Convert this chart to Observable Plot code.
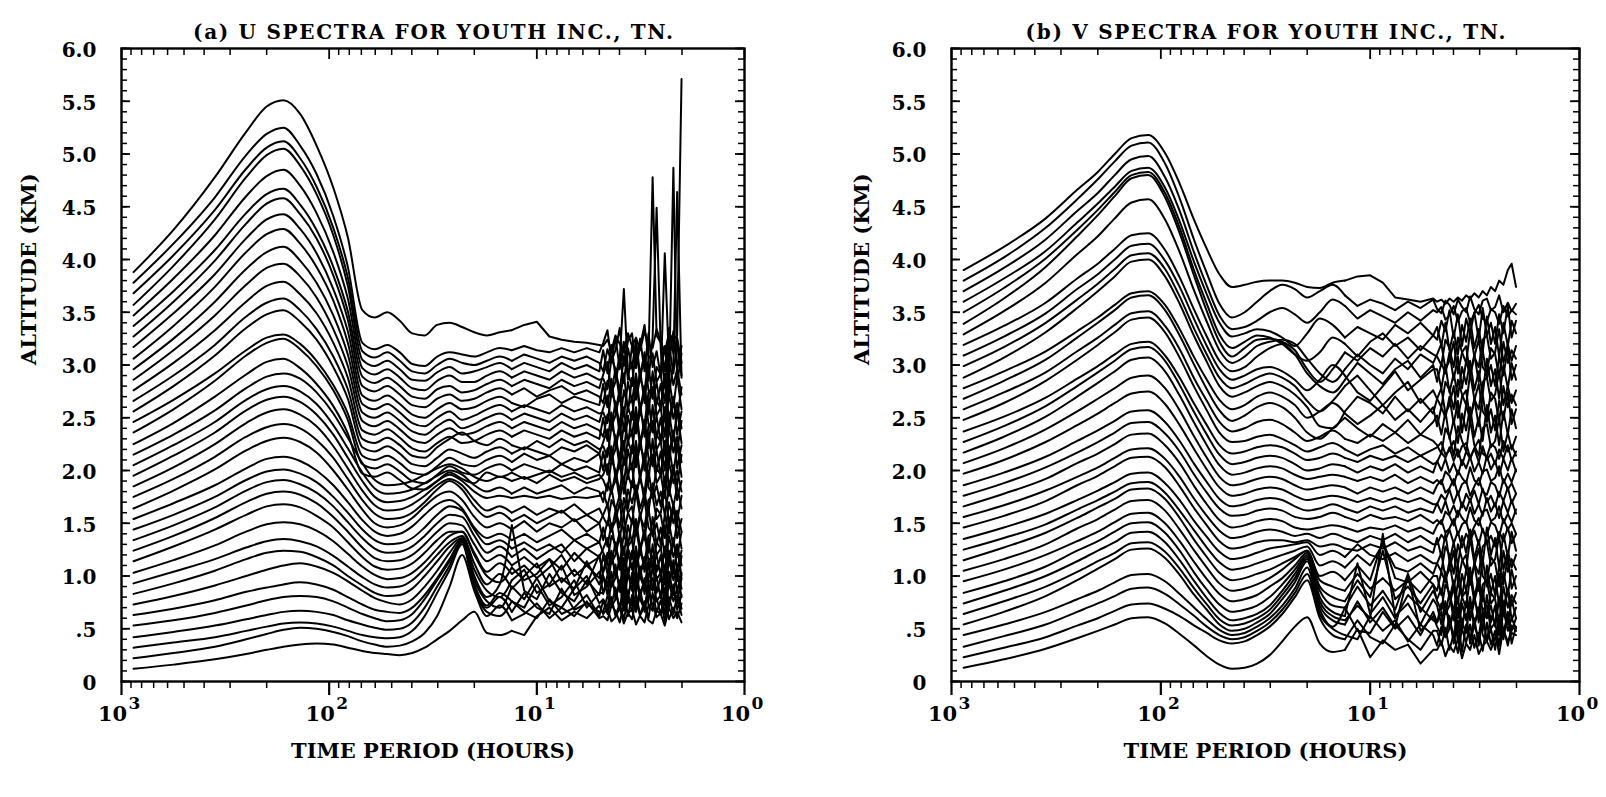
<!DOCTYPE html>
<html><head><meta charset="utf-8">
<script src="https://cdn.jsdelivr.net/npm/d3@7"></script>
<script src="https://cdn.jsdelivr.net/npm/@observablehq/plot@0.6"></script>
<style>
html,body{margin:0;padding:0;background:#fff;overflow:hidden;}
#wrap{display:flex;width:1606px;height:797px;}
#wrap svg{display:block;flex:none;}
</style></head><body><div id="wrap"></div>
<script>
// time periods (hours) at which each spectrum curve is sampled (denser at the short-period end)
const periods = [875, 562, 355, 251, 200, 166, 138, 115, 95.5, 81.3, 69.2, 60.3, 52.5, 45.7, 39.8, 34.7, 30.2, 26.3, 22.9, 20.0, 17.4, 15.1, 13.2, 11.5, 10.0, 8.7, 7.6, 6.6, 5.75, 5.0,
  4.79, 4.57, 4.37, 4.18, 3.99, 3.81, 3.64, 3.48, 3.33, 3.18, 3.03, 2.90, 2.77, 2.65, 2.53, 2.42, 2.31, 2.20, 2.11, 2.01];

const yTickValues = [0, 0.5, 1, 1.5, 2, 2.5, 3, 3.5, 4, 4.5, 5, 5.5, 6];
const yTickLabels = ["0", ".5", "1.0", "1.5", "2.0", "2.5", "3.0", "3.5", "4.0", "4.5", "5.0", "5.5", "6.0"];
const xTickValues = [1000, 100, 10, 1];
const xTickExponents = ["3", "2", "1", "0"];
const titles = ["(a) U SPECTRA FOR YOUTH INC., TN.", "(b) V SPECTRA FOR YOUTH INC., TN."];
const xTitle = "TIME PERIOD (HOURS)";
const yTitle = "ALTITUDE (KM)";

// (a) U spectra, one row per altitude level (bottom to top), altitude-offset values in km
const uCurves = [
[0.12,0.16,0.21,0.26,0.30,0.33,0.35,0.36,0.35,0.32,0.29,0.27,0.26,0.25,0.27,0.32,0.40,0.48,0.58,0.66,0.46,0.44,0.48,0.44,0.62,0.70,0.58,0.66,0.60,0.72, 0.64,0.69,0.57,0.61,0.70,0.55,0.65,0.68,0.54,0.63,0.71,0.58,0.55,0.67,0.64,0.53,0.70,0.60,0.66,0.56],
[0.22,0.27,0.33,0.40,0.45,0.49,0.51,0.50,0.47,0.43,0.38,0.35,0.33,0.34,0.38,0.46,0.62,0.90,1.20,0.86,0.62,0.72,0.58,0.64,0.74,0.60,0.70,0.62,0.76,0.60, 0.62,0.58,0.72,0.67,0.56,0.73,0.65,0.59,0.77,0.62,0.56,0.72,0.74,0.61,0.65,0.78,0.59,0.70,0.60,0.74],
[0.32,0.37,0.42,0.48,0.52,0.55,0.56,0.55,0.52,0.48,0.44,0.42,0.41,0.42,0.48,0.62,0.84,1.06,1.30,0.88,0.66,0.62,0.76,0.66,0.60,0.78,0.64,0.70,0.82,0.62, 0.77,0.64,0.80,0.62,0.74,0.59,0.78,0.67,0.83,0.63,0.76,0.60,0.84,0.66,0.77,0.57,0.80,0.64,0.81,0.63],
[0.42,0.47,0.53,0.59,0.63,0.66,0.67,0.66,0.63,0.58,0.54,0.51,0.49,0.50,0.56,0.70,0.90,1.10,1.32,0.90,0.70,0.80,0.66,0.84,0.70,0.64,0.88,0.68,0.74,0.66, 0.66,0.81,0.73,0.89,0.68,0.86,0.62,0.82,0.71,0.87,0.66,0.90,0.70,0.79,0.63,0.86,0.71,0.92,0.68,0.82],
[0.53,0.58,0.65,0.72,0.77,0.80,0.81,0.80,0.76,0.70,0.64,0.60,0.57,0.58,0.64,0.78,0.96,1.14,1.33,0.92,0.72,0.84,0.76,0.70,0.92,0.72,0.80,0.96,0.70,0.84, 0.84,0.93,0.71,0.78,0.94,0.67,0.85,0.91,0.66,0.82,0.96,0.73,0.67,0.89,0.84,0.64,0.94,0.76,0.87,0.69],
[0.63,0.69,0.77,0.85,0.89,0.92,0.94,0.92,0.87,0.80,0.73,0.68,0.66,0.65,0.70,0.82,0.98,1.16,1.34,0.96,0.76,0.70,0.90,0.78,0.98,0.76,0.70,0.88,1.00,0.74, 0.78,0.70,0.94,0.86,0.68,0.96,0.82,0.72,1.02,0.78,0.68,0.94,0.98,0.76,0.82,1.04,0.72,0.90,0.74,0.98],
[0.73,0.81,0.91,1.00,1.06,1.10,1.12,1.09,1.03,0.95,0.86,0.79,0.75,0.73,0.78,0.90,1.05,1.22,1.35,1.00,0.80,0.92,1.48,0.86,0.78,1.02,0.84,0.76,0.96,0.82, 1.00,0.82,1.04,0.78,0.96,0.74,1.02,0.86,1.08,0.80,0.98,0.76,1.10,0.84,1.00,0.72,1.04,0.82,1.06,0.80],
[0.83,0.93,1.05,1.16,1.22,1.24,1.23,1.18,1.10,1.00,0.91,0.84,0.81,0.82,0.88,1.00,1.14,1.28,1.36,1.06,0.86,0.80,0.96,1.06,0.84,0.92,1.10,0.82,0.90,1.04, 0.83,1.01,0.91,1.11,0.85,1.07,0.77,1.03,0.89,1.09,0.83,1.13,0.87,0.99,0.79,1.07,0.89,1.15,0.85,1.03],
[0.93,1.04,1.16,1.27,1.33,1.35,1.33,1.28,1.19,1.09,0.99,0.92,0.89,0.90,0.96,1.07,1.20,1.32,1.38,1.12,0.92,1.02,0.88,1.00,1.12,0.90,0.98,0.88,1.14,0.92, 1.04,1.14,0.90,0.98,1.16,0.86,1.06,1.12,0.84,1.02,1.18,0.92,0.86,1.10,1.04,0.82,1.16,0.96,1.08,0.88],
[1.03,1.15,1.29,1.42,1.49,1.51,1.49,1.43,1.33,1.21,1.09,1.01,0.97,0.98,1.03,1.13,1.26,1.38,1.42,1.20,1.00,0.94,1.08,0.96,1.02,1.16,0.94,1.06,0.92,1.20, 0.99,0.91,1.15,1.07,0.89,1.17,1.03,0.93,1.23,0.99,0.89,1.15,1.19,0.97,1.03,1.25,0.93,1.11,0.95,1.19],
[1.14,1.28,1.44,1.58,1.66,1.68,1.65,1.57,1.46,1.32,1.18,1.09,1.06,1.07,1.12,1.22,1.34,1.42,1.42,1.22,1.04,1.12,1.02,1.10,0.98,1.08,1.20,1.00,1.10,0.98, 1.20,1.02,1.24,0.98,1.16,0.94,1.22,1.06,1.28,1.00,1.18,0.96,1.30,1.04,1.20,0.92,1.24,1.02,1.26,1.00],
[1.24,1.38,1.55,1.70,1.78,1.80,1.77,1.69,1.56,1.42,1.27,1.17,1.14,1.15,1.20,1.30,1.42,1.50,1.48,1.30,1.14,1.20,1.10,1.18,1.08,1.16,1.06,1.22,1.10,1.18, 1.04,1.22,1.12,1.32,1.06,1.28,0.98,1.24,1.10,1.30,1.04,1.34,1.08,1.20,1.00,1.28,1.10,1.36,1.06,1.24],
[1.34,1.48,1.65,1.81,1.89,1.91,1.87,1.79,1.66,1.51,1.36,1.26,1.22,1.23,1.28,1.38,1.50,1.58,1.56,1.38,1.22,1.28,1.18,1.26,1.16,1.24,1.30,1.14,1.26,1.18, 1.26,1.36,1.12,1.20,1.38,1.08,1.28,1.34,1.06,1.24,1.40,1.14,1.08,1.32,1.26,1.04,1.38,1.18,1.30,1.10],
[1.44,1.58,1.75,1.91,1.99,2.01,1.97,1.89,1.75,1.60,1.44,1.34,1.30,1.31,1.36,1.46,1.58,1.66,1.62,1.44,1.30,1.34,1.26,1.32,1.24,1.30,1.22,1.34,1.26,1.32, 1.22,1.14,1.38,1.30,1.12,1.40,1.26,1.16,1.46,1.22,1.12,1.38,1.42,1.20,1.26,1.48,1.16,1.34,1.18,1.42],
[1.54,1.69,1.86,2.02,2.11,2.13,2.09,2.00,1.86,1.70,1.53,1.42,1.38,1.40,1.47,1.58,1.68,1.72,1.64,1.46,1.36,1.40,1.34,1.40,1.32,1.38,1.44,1.34,1.40,1.32, 1.46,1.28,1.50,1.24,1.42,1.20,1.48,1.32,1.54,1.26,1.44,1.22,1.56,1.30,1.46,1.18,1.50,1.28,1.52,1.26],
[1.64,1.81,2.01,2.19,2.28,2.31,2.27,2.17,2.00,1.82,1.63,1.50,1.46,1.48,1.55,1.66,1.76,1.80,1.72,1.56,1.46,1.50,1.44,1.52,1.42,1.50,1.46,1.54,1.42,1.50, 1.34,1.52,1.42,1.62,1.36,1.58,1.28,1.54,1.40,1.60,1.34,1.64,1.38,1.50,1.30,1.58,1.40,1.66,1.36,1.54],
[1.75,1.92,2.13,2.32,2.41,2.44,2.40,2.29,2.12,1.92,1.72,1.59,1.54,1.55,1.60,1.70,1.82,1.90,1.82,1.66,1.56,1.60,1.52,1.58,1.50,1.56,1.62,1.52,1.58,1.50, 1.58,1.68,1.44,1.52,1.70,1.40,1.60,1.66,1.38,1.56,1.72,1.46,1.40,1.64,1.58,1.36,1.70,1.50,1.62,1.42],
[1.85,2.03,2.25,2.45,2.55,2.58,2.53,2.42,2.23,2.02,1.81,1.67,1.62,1.63,1.68,1.76,1.86,1.92,1.86,1.72,1.62,1.66,1.60,1.66,1.58,1.64,1.60,1.68,1.58,1.64, 1.56,1.48,1.72,1.64,1.46,1.74,1.60,1.50,1.80,1.56,1.46,1.72,1.76,1.54,1.60,1.82,1.50,1.68,1.52,1.76],
[1.95,2.14,2.36,2.57,2.67,2.70,2.65,2.53,2.34,2.12,1.90,1.75,1.70,1.71,1.75,1.82,1.90,1.96,1.90,1.80,1.74,1.76,1.74,1.76,1.74,1.76,1.73,1.75,1.74,1.76, 1.80,1.66,1.83,1.62,1.77,1.59,1.82,1.69,1.86,1.64,1.78,1.61,1.88,1.67,1.80,1.58,1.83,1.66,1.85,1.64],
[2.05,2.24,2.46,2.67,2.77,2.80,2.75,2.63,2.43,2.21,1.98,1.83,1.78,1.79,1.82,1.88,1.95,2.00,1.96,1.86,1.80,1.84,1.78,1.84,1.78,1.82,1.86,1.78,1.84,1.80, 1.70,1.88,1.78,1.98,1.72,1.94,1.64,1.90,1.76,1.96,1.70,2.00,1.74,1.86,1.66,1.94,1.76,2.02,1.72,1.90],
[2.15,2.34,2.57,2.78,2.89,2.92,2.87,2.74,2.54,2.31,2.07,1.91,1.86,1.87,1.90,1.96,2.02,2.06,2.02,1.94,1.90,1.94,1.90,1.94,1.88,1.96,1.90,1.94,1.88,1.92, 1.96,2.06,1.82,1.90,2.08,1.78,1.98,2.04,1.76,1.94,2.10,1.84,1.78,2.02,1.96,1.74,2.08,1.88,2.00,1.80],
[2.25,2.45,2.70,2.91,3.03,3.06,2.97,2.82,2.61,2.35,1.97,1.94,1.98,1.91,1.83,1.82,1.90,1.98,1.92,1.88,1.98,1.94,1.98,1.92,1.96,2.00,1.94,1.98,1.92,1.96, 1.91,1.81,2.10,2.00,1.79,2.12,1.96,1.84,2.20,1.91,1.79,2.10,2.15,1.88,1.96,2.22,1.84,2.05,1.86,2.15],
[2.36,2.58,2.85,3.09,3.21,3.25,3.15,2.99,2.76,2.48,2.06,2.02,2.06,1.99,1.90,1.88,1.96,2.04,1.98,1.96,2.02,2.06,2.00,2.06,2.02,1.98,2.06,2.00,2.04,1.98, 2.18,1.96,2.23,1.92,2.13,1.87,2.20,2.01,2.28,1.94,2.16,1.89,2.30,1.99,2.18,1.84,2.23,1.96,2.25,1.94],
[2.46,2.67,2.92,3.14,3.26,3.29,3.20,3.04,2.81,2.54,2.14,2.10,2.14,2.07,1.98,1.96,2.04,2.12,2.06,2.04,2.10,2.14,2.08,2.16,2.10,2.14,2.06,2.12,2.08,2.16, 2.00,2.21,2.09,2.33,2.02,2.28,1.92,2.24,2.07,2.31,2.00,2.36,2.04,2.19,1.95,2.28,2.07,2.38,2.02,2.24],
[2.56,2.80,3.09,3.35,3.48,3.52,3.41,3.24,2.98,2.68,2.22,2.18,2.23,2.16,2.06,2.04,2.12,2.20,2.16,2.12,2.18,2.22,2.16,2.22,2.18,2.14,2.22,2.18,2.24,2.16, 2.27,2.39,2.10,2.20,2.41,2.05,2.29,2.36,2.03,2.24,2.44,2.12,2.05,2.34,2.27,2.00,2.41,2.17,2.32,2.08],
[2.66,2.90,3.19,3.46,3.59,3.63,3.52,3.34,3.08,2.77,2.30,2.26,2.31,2.24,2.14,2.12,2.22,2.30,2.36,2.28,2.24,2.30,2.24,2.20,2.28,2.22,2.30,2.24,2.28,2.20, 2.23,2.13,2.42,2.32,2.11,2.44,2.28,2.16,2.52,2.23,2.11,2.42,2.47,2.20,2.28,2.54,2.16,2.37,2.18,2.47],
[2.76,3.02,3.33,3.60,3.75,3.79,3.67,3.49,3.21,2.88,2.38,2.34,2.39,2.31,2.21,2.18,2.26,2.32,2.26,2.28,2.34,2.38,2.32,2.38,2.34,2.30,2.38,2.32,2.36,2.30, 2.50,2.28,2.55,2.24,2.45,2.19,2.52,2.33,2.60,2.26,2.48,2.21,2.62,2.31,2.50,2.16,2.55,2.28,2.57,2.26],
[2.86,3.14,3.47,3.76,3.92,3.96,3.84,3.64,3.34,2.99,2.47,2.42,2.47,2.39,2.29,2.26,2.34,2.40,2.34,2.36,2.42,2.46,2.40,2.46,2.42,2.38,2.46,2.40,2.44,2.38, 2.32,2.53,2.41,2.65,2.34,2.60,2.24,2.56,2.39,2.63,2.32,2.68,2.36,2.51,2.27,2.60,2.39,2.70,2.34,2.56],
[2.96,3.25,3.60,3.91,4.07,4.12,3.99,3.78,3.47,3.10,2.55,2.50,2.55,2.47,2.37,2.34,2.42,2.48,2.40,2.44,2.50,2.54,2.48,2.54,2.50,2.46,2.54,2.48,2.52,2.46, 2.59,2.71,2.42,2.52,2.73,2.37,2.61,2.68,2.35,2.56,2.76,2.44,2.37,2.66,2.59,2.32,2.73,2.49,2.64,2.40],
[3.06,3.37,3.74,4.07,4.24,4.29,4.15,3.93,3.61,3.21,2.63,2.58,2.63,2.55,2.45,2.42,2.50,2.56,2.48,2.52,2.58,2.62,2.56,2.62,2.58,2.54,2.62,2.56,2.60,2.54, 2.55,2.45,2.74,2.64,2.43,2.76,2.60,2.48,2.84,2.55,2.43,2.74,2.79,2.52,2.60,2.86,2.48,2.69,2.50,2.79],
[3.17,3.49,3.86,4.20,4.38,4.43,4.29,4.06,3.72,3.32,2.71,2.66,2.71,2.63,2.53,2.50,2.58,2.64,2.58,2.60,2.66,2.70,2.64,2.60,2.68,2.72,2.64,2.70,2.66,2.62, 2.82,2.60,2.87,2.56,2.77,2.51,2.84,2.65,2.92,2.58,2.80,2.53,2.94,2.63,2.82,2.48,2.87,2.60,2.89,2.58],
[3.27,3.60,3.99,4.34,4.53,4.58,4.43,4.20,3.85,3.43,2.80,2.75,2.80,2.72,2.62,2.60,2.68,2.72,2.66,2.68,2.74,2.78,2.72,2.78,2.70,2.76,2.80,2.72,2.76,2.70, 2.64,2.85,2.73,2.97,2.66,2.92,2.56,2.88,2.71,2.95,2.64,3.00,2.68,2.83,2.59,2.92,2.71,3.02,4.64,2.88],
[3.37,3.70,4.09,4.44,4.62,4.67,4.52,4.28,3.93,3.51,2.89,2.83,2.88,2.80,2.70,2.68,2.77,2.80,2.74,2.76,2.82,2.86,2.80,2.86,2.82,2.78,2.86,2.80,2.84,2.78, 2.91,3.03,2.74,2.84,3.05,3.72,2.93,3.00,2.67,2.88,3.08,2.76,2.69,2.98,2.91,2.64,3.05,2.81,2.96,2.72],
[3.47,3.82,4.23,4.60,4.79,4.85,4.70,4.44,4.07,3.63,2.97,2.91,2.96,2.88,2.78,2.76,2.85,2.90,2.84,2.84,2.90,2.94,2.88,2.94,2.90,2.86,2.94,2.88,2.92,2.86, 2.87,2.77,3.06,2.96,2.75,3.08,2.92,2.80,3.16,2.87,2.75,3.06,3.11,2.84,2.92,3.18,2.80,4.87,2.82,3.11],
[3.57,3.94,4.38,4.78,4.99,5.05,4.89,4.62,4.23,3.75,3.05,2.99,3.04,2.96,2.86,2.85,2.93,2.98,2.92,2.94,2.98,3.02,2.96,3.02,2.98,2.94,3.02,2.96,3.00,2.94, 3.14,2.92,3.19,2.88,3.09,2.83,3.16,2.97,3.24,2.90,3.12,2.85,3.26,4.49,3.14,2.80,3.19,2.92,3.21,2.90],
[3.68,4.04,4.47,4.86,5.06,5.12,4.96,4.69,4.30,3.83,3.13,3.07,3.12,3.04,2.94,2.92,3.00,3.06,3.02,3.00,3.04,3.08,3.04,3.10,3.06,3.02,3.08,3.04,3.08,3.02, 2.94,3.15,3.03,3.27,2.96,3.22,2.86,3.18,3.01,3.25,2.94,3.30,2.98,3.13,2.89,4.06,3.01,3.32,2.96,3.18],
[3.78,4.15,4.59,4.99,5.19,5.25,5.08,4.81,4.41,3.93,3.21,3.15,3.19,3.12,3.01,2.99,3.08,3.12,3.10,3.08,3.12,3.16,3.14,3.18,3.14,3.12,3.16,3.12,3.16,3.12, 3.21,3.33,3.04,3.14,3.35,2.99,3.23,3.30,2.97,3.18,3.38,3.06,4.78,3.28,3.21,2.94,3.35,3.11,3.26,3.02],
[3.88,4.28,4.78,5.21,5.45,5.51,5.38,5.08,4.68,4.21,3.52,3.45,3.50,3.42,3.30,3.28,3.38,3.40,3.36,3.31,3.28,3.31,3.33,3.38,3.41,3.27,3.24,3.22,3.21,3.19, 3.18,3.24,3.14,3.28,3.20,3.12,3.30,3.18,3.26,3.14,3.32,3.20,3.16,3.34,3.22,3.12,3.30,3.24,3.28,5.71]
];

// (b) V spectra, one row per altitude level (bottom to top)
const vCurves = [
[0.13,0.21,0.31,0.41,0.48,0.54,0.60,0.61,0.55,0.45,0.34,0.24,0.16,0.12,0.13,0.17,0.25,0.38,0.52,0.61,0.36,0.28,0.30,0.50,0.23,0.39,0.30,0.35,0.17,0.30, 0.30,0.38,0.24,0.34,0.28,0.40,0.22,0.36,0.30,0.44,0.26,0.34,0.38,0.30,0.42,0.34,0.48,0.38,0.46,0.44],
[0.23,0.32,0.42,0.53,0.60,0.67,0.73,0.74,0.69,0.62,0.53,0.46,0.39,0.36,0.38,0.44,0.52,0.64,0.80,0.96,0.60,0.44,0.40,0.58,0.42,0.36,0.54,0.40,0.30,0.48, 0.48,0.34,0.51,0.30,0.45,0.27,0.50,0.37,0.54,0.32,0.46,0.29,0.56,0.35,0.48,0.26,0.51,0.34,0.53,0.48],
[0.33,0.43,0.54,0.66,0.74,0.81,0.88,0.89,0.83,0.73,0.62,0.52,0.44,0.40,0.42,0.48,0.56,0.68,0.84,1.02,0.64,0.50,0.44,0.40,0.62,0.48,0.58,0.38,0.54,0.44, 0.34,0.52,0.42,0.62,0.36,0.58,0.28,0.54,0.40,0.60,0.34,0.64,0.38,0.50,0.30,0.58,0.40,0.66,0.36,0.52],
[0.44,0.54,0.66,0.78,0.86,0.94,1.01,1.02,0.95,0.83,0.70,0.59,0.49,0.44,0.46,0.52,0.60,0.72,0.88,1.08,0.68,0.52,0.70,0.48,0.46,0.66,0.50,0.62,0.44,0.66, 0.56,0.66,0.42,0.50,0.68,0.38,0.58,0.64,0.36,0.54,0.70,0.44,0.38,0.62,0.56,0.34,0.68,0.48,0.60,0.50],
[0.54,0.66,0.81,0.96,1.07,1.16,1.25,1.26,1.17,1.01,0.82,0.68,0.54,0.48,0.50,0.56,0.64,0.78,0.94,1.14,0.72,0.58,0.54,0.76,0.56,0.70,0.52,1.00,0.48,0.62, 0.52,0.44,0.68,0.60,0.42,0.70,0.56,0.46,0.76,0.52,0.42,0.68,0.72,0.50,0.56,0.78,0.46,0.64,0.48,0.60],
[0.64,0.76,0.90,1.04,1.14,1.22,1.31,1.32,1.23,1.07,0.88,0.73,0.59,0.53,0.55,0.60,0.68,0.82,0.98,1.16,0.76,0.62,0.58,0.72,0.60,1.40,0.62,0.74,0.54,0.78, 0.72,0.54,0.76,0.50,0.68,0.46,0.74,0.58,0.80,0.52,0.70,0.48,0.82,0.56,0.72,0.44,0.76,0.54,0.78,0.60],
[0.74,0.86,1.00,1.14,1.24,1.32,1.41,1.42,1.32,1.15,0.95,0.79,0.65,0.58,0.60,0.64,0.72,0.86,1.02,1.18,0.80,0.66,0.62,1.12,0.64,0.80,0.60,0.82,0.70,0.58, 0.56,0.74,0.64,0.84,0.58,0.80,0.50,0.76,0.62,0.82,0.56,0.86,0.60,0.72,0.52,0.80,0.62,0.88,0.58,0.70],
[0.84,0.95,1.09,1.24,1.33,1.42,1.50,1.51,1.41,1.24,1.03,0.87,0.73,0.66,0.68,0.72,0.80,0.92,1.06,1.20,0.86,0.72,0.70,0.90,0.72,0.86,0.68,1.02,0.66,0.86, 0.78,0.88,0.64,0.72,0.90,0.60,0.80,0.86,0.58,0.76,0.92,0.66,0.60,0.84,0.78,0.56,0.90,0.70,0.82,0.74],
[0.95,1.06,1.20,1.33,1.42,1.51,1.59,1.60,1.50,1.33,1.13,0.97,0.83,0.76,0.78,0.82,0.90,0.98,1.10,1.22,0.90,0.80,0.76,0.96,0.80,1.24,0.78,0.90,0.74,0.92, 0.76,0.68,0.92,0.84,0.66,0.94,0.80,0.70,1.00,0.76,0.66,0.92,0.96,0.74,0.80,1.02,0.70,0.88,0.72,0.84],
[1.05,1.16,1.30,1.45,1.54,1.63,1.71,1.72,1.62,1.44,1.24,1.08,0.93,0.86,0.88,0.92,0.98,1.06,1.16,1.24,0.96,0.90,0.86,1.02,0.88,0.98,0.86,0.96,0.84,1.00, 1.00,0.82,1.04,0.78,0.96,0.74,1.02,0.86,1.08,0.80,0.98,0.76,1.10,0.84,1.00,0.72,1.04,0.82,1.06,0.88],
[1.15,1.27,1.41,1.55,1.65,1.73,1.82,1.83,1.73,1.55,1.34,1.18,1.03,0.96,0.98,1.02,1.06,1.12,1.18,1.24,1.00,1.04,0.96,1.10,0.96,1.34,0.98,0.94,1.04,0.92, 0.86,1.04,0.94,1.14,0.88,1.10,0.80,1.06,0.92,1.12,0.86,1.16,0.90,1.02,0.82,1.10,0.92,1.18,0.88,1.00],
[1.25,1.36,1.49,1.63,1.72,1.80,1.88,1.89,1.79,1.62,1.43,1.27,1.13,1.06,1.08,1.12,1.16,1.20,1.24,1.28,1.10,1.14,1.08,1.20,1.10,1.30,1.08,1.04,1.12,1.02, 1.12,1.22,0.98,1.06,1.24,0.94,1.14,1.20,0.92,1.10,1.26,1.00,0.94,1.18,1.12,0.90,1.24,1.04,1.16,1.06],
[1.35,1.46,1.59,1.72,1.81,1.89,1.97,1.98,1.88,1.72,1.52,1.37,1.23,1.16,1.18,1.22,1.26,1.28,1.30,1.32,1.20,1.24,1.18,1.30,1.20,1.16,1.22,1.14,1.20,1.12, 1.12,1.04,1.28,1.20,1.02,1.30,1.16,1.06,1.36,1.12,1.02,1.28,1.32,1.10,1.16,1.38,1.06,1.24,1.08,1.20],
[1.46,1.57,1.71,1.86,1.95,2.04,2.12,2.13,2.03,1.85,1.64,1.48,1.33,1.26,1.28,1.32,1.34,1.34,1.32,1.34,1.28,1.30,1.26,1.24,1.30,1.26,1.32,1.24,1.28,1.22, 1.36,1.18,1.40,1.14,1.32,1.10,1.38,1.22,1.44,1.16,1.34,1.12,1.46,1.20,1.36,1.08,1.40,1.18,1.42,1.24],
[1.56,1.67,1.81,1.94,2.03,2.12,2.20,2.21,2.11,1.94,1.73,1.57,1.43,1.36,1.38,1.42,1.44,1.42,1.38,1.40,1.36,1.40,1.36,1.32,1.38,1.34,1.40,1.32,1.38,1.30, 1.30,1.39,1.34,1.44,1.31,1.42,1.27,1.40,1.33,1.43,1.30,1.45,1.32,1.38,1.28,1.42,1.33,1.46,1.31,1.40],
[1.66,1.78,1.92,2.07,2.16,2.25,2.34,2.35,2.24,2.07,1.85,1.68,1.53,1.46,1.48,1.52,1.54,1.52,1.46,1.44,1.46,1.48,1.46,1.42,1.46,1.44,1.48,1.42,1.46,1.40, 1.48,1.53,1.41,1.45,1.54,1.39,1.49,1.52,1.38,1.47,1.55,1.42,1.39,1.51,1.48,1.37,1.54,1.44,1.50,1.40],
[1.76,1.88,2.03,2.17,2.27,2.36,2.45,2.46,2.35,2.18,1.96,1.79,1.64,1.57,1.58,1.62,1.64,1.62,1.56,1.54,1.56,1.60,1.56,1.52,1.58,1.54,1.56,1.52,1.58,1.50, 1.53,1.49,1.61,1.57,1.48,1.62,1.55,1.50,1.65,1.53,1.48,1.61,1.63,1.52,1.55,1.66,1.50,1.59,1.51,1.63],
[1.86,1.98,2.13,2.28,2.38,2.47,2.56,2.57,2.46,2.28,2.06,1.89,1.73,1.66,1.68,1.72,1.74,1.72,1.66,1.62,1.64,1.68,1.64,1.60,1.66,1.62,1.66,1.60,1.64,1.60, 1.69,1.60,1.71,1.58,1.67,1.56,1.70,1.62,1.73,1.59,1.68,1.57,1.74,1.61,1.69,1.55,1.71,1.60,1.72,1.59],
[1.97,2.10,2.27,2.43,2.54,2.64,2.73,2.75,2.63,2.43,2.20,2.01,1.84,1.76,1.78,1.82,1.84,1.82,1.76,1.72,1.74,1.76,1.74,1.70,1.74,1.70,1.74,1.70,1.74,1.68, 1.68,1.77,1.72,1.82,1.69,1.80,1.65,1.78,1.71,1.81,1.68,1.83,1.70,1.76,1.66,1.80,1.71,1.84,1.69,1.78],
[2.07,2.21,2.39,2.56,2.68,2.78,2.88,2.90,2.78,2.57,2.32,2.12,1.94,1.86,1.88,1.92,1.94,1.92,1.86,1.82,1.84,1.86,1.84,1.78,1.84,1.80,1.84,1.78,1.84,1.78, 1.86,1.91,1.79,1.83,1.92,1.77,1.87,1.90,1.76,1.85,1.93,1.80,1.77,1.89,1.86,1.75,1.92,1.82,1.88,1.78],
[2.17,2.32,2.51,2.70,2.83,2.94,3.05,3.07,2.94,2.71,2.45,2.24,2.05,1.96,1.98,2.02,2.04,2.02,1.96,1.92,1.94,1.96,1.94,1.90,1.94,1.90,1.96,1.88,1.94,1.88, 1.91,1.87,1.99,1.95,1.86,2.00,1.93,1.88,2.03,1.91,1.86,1.99,2.01,1.90,1.93,2.04,1.88,1.97,1.89,2.01],
[2.27,2.42,2.61,2.80,2.93,3.04,3.15,3.17,3.04,2.81,2.55,2.34,2.15,2.06,2.08,2.12,2.14,2.12,2.06,2.00,2.02,2.06,2.04,1.98,2.04,2.00,2.06,1.98,2.04,1.98, 2.09,2.00,2.11,1.98,2.07,1.96,2.10,2.02,2.13,1.99,2.08,1.97,2.14,2.01,2.09,1.95,2.11,2.00,2.12,1.99],
[2.37,2.51,2.69,2.87,2.99,3.10,3.20,3.22,3.09,2.88,2.63,2.43,2.24,2.16,2.18,2.22,2.24,2.22,2.16,2.10,2.12,2.16,2.12,2.08,2.14,2.10,2.14,2.08,2.14,2.06, 2.08,2.17,2.12,2.22,2.09,2.20,2.05,2.18,2.11,2.21,2.08,2.23,2.10,2.16,2.06,2.20,2.11,2.24,2.09,2.18],
[2.48,2.64,2.85,3.05,3.19,3.31,3.43,3.45,3.31,3.07,2.79,2.57,2.36,2.27,2.28,2.32,2.34,2.30,2.24,2.18,2.22,2.26,2.20,2.14,2.20,2.24,2.16,2.22,2.14,2.20, 2.22,2.27,2.15,2.19,2.28,2.13,2.23,2.26,2.12,2.21,2.29,2.16,2.13,2.25,2.22,2.11,2.28,2.18,2.24,2.14],
[2.58,2.74,2.93,3.13,3.26,3.38,3.49,3.51,3.37,3.15,2.87,2.66,2.46,2.37,2.40,2.46,2.48,2.44,2.36,2.28,2.32,2.38,2.30,2.26,2.34,2.28,2.36,2.26,2.34,2.28, 2.24,2.16,2.40,2.32,2.14,2.42,2.28,2.18,2.48,2.24,2.14,2.40,2.44,2.22,2.28,2.50,2.18,2.36,2.20,2.32],
[2.68,2.85,3.05,3.26,3.40,3.52,3.64,3.66,3.52,3.28,3.00,2.77,2.57,2.47,2.52,2.60,2.64,2.60,2.50,2.36,2.30,2.40,2.50,2.40,2.32,2.44,2.36,2.48,2.34,2.46, 2.52,2.34,2.56,2.30,2.48,2.26,2.54,2.38,2.60,2.32,2.50,2.28,2.62,2.36,2.52,2.24,2.56,2.34,2.58,2.40],
[2.78,2.94,3.13,3.32,3.45,3.57,3.68,3.70,3.57,3.34,3.07,2.86,2.67,2.58,2.62,2.70,2.74,2.70,2.62,2.50,2.56,2.64,2.54,2.44,2.52,2.62,2.48,2.58,2.46,2.60, 2.42,2.60,2.50,2.70,2.44,2.66,2.36,2.62,2.48,2.68,2.42,2.72,2.46,2.58,2.38,2.66,2.48,2.74,2.44,2.58],
[2.88,3.07,3.31,3.54,3.70,3.84,3.98,4.00,3.84,3.58,3.27,3.03,2.80,2.70,2.74,2.80,2.84,2.80,2.72,2.60,2.42,2.40,2.56,2.70,2.64,2.54,2.70,2.56,2.68,2.54, 2.68,2.78,2.54,2.62,2.80,2.50,2.70,2.76,2.48,2.66,2.82,2.56,2.50,2.74,2.68,2.46,2.80,2.60,2.72,2.62],
[2.99,3.17,3.40,3.62,3.77,3.91,4.04,4.06,3.91,3.65,3.34,3.10,2.88,2.78,2.82,2.88,2.92,2.88,2.80,2.66,2.56,2.66,2.80,2.90,2.76,2.62,2.74,2.84,2.64,2.76, 2.68,2.60,2.84,2.76,2.58,2.86,2.72,2.62,2.92,2.68,2.58,2.84,2.88,2.66,2.72,2.94,2.62,2.80,2.64,2.76],
[3.09,3.27,3.49,3.72,3.86,4.00,4.13,4.15,3.99,3.74,3.43,3.18,2.96,2.86,2.90,2.96,2.98,2.94,2.86,2.76,2.86,3.00,2.90,2.74,2.66,2.80,2.94,2.76,2.86,2.96, 2.96,2.78,3.00,2.74,2.92,2.70,2.98,2.82,3.04,2.76,2.94,2.72,3.06,2.80,2.96,2.68,3.00,2.78,3.02,2.86],
[3.19,3.37,3.59,3.82,3.96,4.10,4.23,4.25,4.09,3.83,3.52,3.27,3.04,2.94,2.98,3.08,3.16,3.20,3.10,2.92,2.80,2.74,2.86,3.02,2.92,2.82,2.96,3.04,2.88,3.00, 2.84,3.02,2.92,3.12,2.86,3.08,2.78,3.04,2.90,3.10,2.84,3.14,2.88,3.00,2.80,3.08,2.90,3.16,2.86,3.00],
[3.29,3.51,3.78,4.05,4.22,4.39,4.54,4.57,4.38,4.07,3.70,3.41,3.14,3.02,3.08,3.18,3.22,3.24,3.20,3.06,2.92,2.84,2.96,3.10,3.00,2.92,3.06,2.96,3.10,3.02, 3.10,3.20,2.96,3.04,3.22,2.92,3.12,3.18,2.90,3.08,3.24,2.98,2.92,3.16,3.10,2.88,3.22,3.02,3.14,3.06],
[3.39,3.63,3.93,4.22,4.42,4.60,4.77,4.80,4.59,4.25,3.84,3.51,3.22,3.08,3.16,3.24,3.25,3.22,3.14,2.96,2.84,2.96,3.12,3.04,3.16,3.08,3.20,3.06,3.18,3.10, 3.08,3.00,3.24,3.16,2.98,3.26,3.12,3.02,3.32,3.08,2.98,3.24,3.28,3.06,3.12,3.34,3.02,3.20,3.04,3.18],
[3.50,3.73,4.01,4.28,4.47,4.64,4.80,4.83,4.63,4.30,3.89,3.58,3.29,3.16,3.22,3.28,3.26,3.20,3.10,3.04,3.12,3.26,3.20,3.08,3.22,3.30,3.18,3.26,3.14,3.28, 3.36,3.18,3.40,3.14,3.32,3.10,3.38,3.22,3.44,3.16,3.34,3.12,3.46,3.20,3.36,3.08,3.40,3.18,3.42,3.30],
[3.60,3.82,4.08,4.35,4.53,4.69,4.84,4.87,4.68,4.36,3.97,3.67,3.40,3.27,3.30,3.34,3.32,3.26,3.18,3.30,3.44,3.38,3.26,3.36,3.30,3.24,3.38,3.30,3.40,3.28, 3.24,3.42,3.32,3.52,3.26,3.48,3.18,3.44,3.30,3.50,3.24,3.54,3.28,3.40,3.20,3.48,3.30,3.56,3.26,3.42],
[3.70,3.92,4.19,4.46,4.63,4.80,4.95,4.98,4.78,4.46,4.06,3.75,3.47,3.34,3.36,3.42,3.50,3.54,3.48,3.40,3.50,3.62,3.56,3.44,3.52,3.46,3.40,3.50,3.42,3.52, 3.50,3.55,3.43,3.47,3.56,3.41,3.51,3.54,3.40,3.49,3.57,3.44,3.41,3.53,3.50,3.39,3.56,3.46,3.52,3.48],
[3.80,4.02,4.30,4.57,4.76,4.93,5.08,5.11,4.91,4.58,4.18,3.87,3.58,3.45,3.50,3.60,3.70,3.76,3.72,3.64,3.70,3.76,3.66,3.56,3.62,3.58,3.52,3.60,3.54,3.62, 3.53,3.49,3.61,3.57,3.48,3.62,3.55,3.50,3.65,3.53,3.48,3.61,3.63,3.52,3.55,3.66,3.50,3.59,3.51,3.58],
[3.90,4.12,4.39,4.66,4.83,5.00,5.15,5.18,5.01,4.72,4.37,4.10,3.86,3.74,3.76,3.79,3.80,3.80,3.78,3.74,3.73,3.78,3.80,3.84,3.85,3.78,3.64,3.62,3.60,3.63, 3.60,3.62,3.58,3.63,3.60,3.64,3.61,3.66,3.63,3.68,3.64,3.70,3.66,3.74,3.70,3.80,3.76,3.90,3.96,3.74]
];

const FONT = {fontFamily: "DejaVu Serif", fontWeight: "bold", fill: "black"};
const SPLIT = 22; // smooth interpolation up to this sample, straight segments after it

function panel(curves, title, ml, mr, yTitleDx) {
  const W = 803, H = 797, mt = 48, mb = 116;
  const fw = W - ml - mr, fh = H - mt - mb;
  const rows = curves.flatMap((c, i) => c.map((v, k) => ({curve: i, k, period: periods[k], alt: v})));
  const smooth = rows.filter(r => r.k <= SPLIT);
  const rough = rows.filter(r => r.k >= SPLIT);
  const yMinor = d3.range(0, 61).map(d => d / 10);
  const xMinor = [];
  for (const dec of [1, 10, 100]) for (let m = 2; m <= 9; m++) xMinor.push(m * dec);
  const lineStyle = {x: "period", y: "alt", z: "curve", stroke: "black", strokeWidth: 2, strokeLinejoin: "round"};
  const svg = Plot.plot({
    width: W, height: H,
    marginLeft: ml, marginRight: mr, marginTop: mt, marginBottom: mb,
    x: {type: "log", domain: [1000, 1], axis: null},
    y: {domain: [0, 6], axis: null},
    style: {background: "white", overflow: "visible"},
    marks: [
      Plot.line(smooth, {...lineStyle, curve: "monotone-x"}),
      Plot.line(rough, {...lineStyle, curve: "linear"}),
      Plot.frame({stroke: "black", strokeWidth: 2.4}),
      Plot.ruleY(yMinor, {y: d => d, insetRight: fw - 6, strokeWidth: 1.5}),
      Plot.ruleY(yMinor, {y: d => d, insetLeft: fw - 6, strokeWidth: 1.5}),
      Plot.ruleY(yTickValues, {y: d => d, insetRight: fw - 9, strokeWidth: 1.8}),
      Plot.ruleY(yTickValues, {y: d => d, insetLeft: fw - 9, strokeWidth: 1.8}),
      Plot.ruleX(xMinor, {x: d => d, insetTop: fh, insetBottom: -7, strokeWidth: 1.5}),
      Plot.ruleX(xTickValues, {x: d => d, insetTop: fh, insetBottom: -14, strokeWidth: 2.2}),
      Plot.ruleX(xMinor, {x: d => d, insetBottom: fh - 7, strokeWidth: 1.5}),
      Plot.ruleX(xTickValues, {x: d => d, insetBottom: fh - 11, strokeWidth: 1.8}),
      Plot.text(yTickValues, {y: d => d, text: (d, i) => yTickLabels[i], frameAnchor: "left", dx: -25, dy: 2, textAnchor: "end", fontSize: 20, ...FONT}),
      Plot.text(xTickValues, {x: d => d, text: () => "10", frameAnchor: "bottom", dy: 39, dx: -9, fontSize: 21, ...FONT}),
      Plot.text(xTickValues, {x: d => d, text: (d, i) => xTickExponents[i], frameAnchor: "bottom", dy: 27, dx: 13, fontSize: 17, ...FONT}),
      Plot.text([title], {text: d => d, frameAnchor: "top", dy: -24, fontSize: 20, ...FONT}),
      Plot.text([xTitle], {text: d => d, frameAnchor: "bottom", dy: 76, fontSize: 21, ...FONT}),
      Plot.text([yTitle], {text: d => d, frameAnchor: "left", dx: yTitleDx, rotate: -90, fontSize: 21, ...FONT})
    ]
  });
  // widen the panel title to the span of the original lettering
  svg.querySelectorAll("text").forEach(t => {
    if (t.textContent === title) {
      t.setAttribute("textLength", 480);
      t.setAttribute("lengthAdjust", "spacing");
    }
  });
  return svg;
}

for (const c of [...uCurves, ...vCurves]) if (c.length !== periods.length) console.error("row length", c.length);
const wrap = document.getElementById("wrap");
wrap.appendChild(panel(uCurves, titles[0], 121, 59, -92));
wrap.appendChild(panel(vCurves, titles[1], 148, 27, -89));
</script>
</body></html>
